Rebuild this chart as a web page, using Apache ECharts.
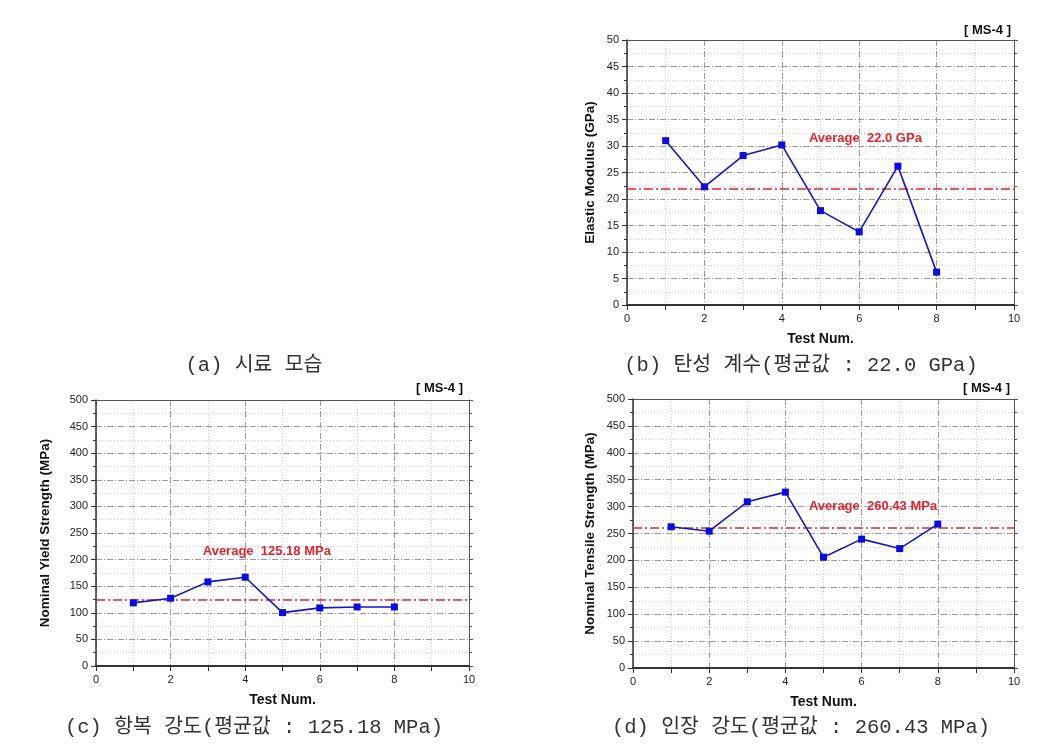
<!DOCTYPE html>
<html>
<head>
<meta charset="utf-8">
<script src="https://cdn.jsdelivr.net/npm/echarts@6/dist/echarts.min.js"></script>
<style>
html,body{margin:0;padding:0;background:#fff;}
#main{width:1040px;height:751px;}
</style>
</head>
<body>
<div id="main"></div>
<script>
// ---- data ----
const testNum = [1, 2, 3, 4, 5, 6, 7, 8];
const elasticModulus = [31.0, 22.3, 28.2, 30.2, 17.8, 13.8, 26.2, 6.2];
const yieldStrength = [118.6, 127.4, 158.1, 166.9, 100.4, 109.2, 111.0, 111.0];
const tensileStrength = [262.4, 254.3, 308.9, 326.9, 206.0, 239.5, 222.0, 267.4];
const averages = [22.0, 125.18, 260.43];
const avgLabels = ['Average  22.0 GPa', 'Average  125.18 MPa', 'Average  260.43 MPa'];
const avgLabelAnchor = [[6.16, 31.5], [4.58, 216], [6.3, 301]];
const yTitles = ['Elastic Modulus (GPa)', 'Nominal Yield Strength (MPa)', 'Nominal Tensile Strength (MPa)'];
const xTitle = 'Test Num.';
const yMax = [50, 500, 500];
const yInterval = [5, 50, 50];
const xMin = 0, xMax = 10, xInterval = 2;
const tagLabel = '[ MS-4 ]';
const captions = ['(a) 시료 모습', '(b) 탄성 계수(평균값 : 22.0 GPa)', '(c) 항복 강도(평균값 : 125.18 MPa)', '(d) 인장 강도(평균값 : 260.43 MPa)'];

// ---- layout ----
const grids = [
  {left: 627, top: 40, width: 387, height: 265},
  {left: 96, top: 400, width: 373, height: 266},
  {left: 633, top: 399, width: 381, height: 269}
];
const yNameGap = [30, 44, 36];
const seriesData = [elasticModulus, yieldStrength, tensileStrength];

const sansFont = "'Liberation Sans', Arial, sans-serif";
const capFont = "'Liberation Mono', 'Noto Sans CJK KR', monospace";
const axisCol = '#333';
const blue = '#1414c8';
const red = '#e3232b';

const xAxes = [], yAxes = [], series = [];
grids.forEach((g, i) => {
  // bottom x
  xAxes.push({
    gridIndex: i, type: 'value', min: xMin, max: xMax, interval: xInterval, position: 'bottom',
    name: xTitle, nameLocation: 'middle', nameGap: 27,
    nameTextStyle: {fontFamily: sansFont, fontWeight: 'bold', fontSize: 14, color: '#111'},
    axisLine: {show: true, onZero: false, lineStyle: {color: axisCol, width: 1.8}},
    axisTick: {show: true, length: 5, lineStyle: {color: axisCol}},
    minorTick: {show: true, splitNumber: 2, length: 5, lineStyle: {color: axisCol}},
    axisLabel: {fontFamily: sansFont, fontSize: 11, color: '#222', margin: 8},
    splitLine: {show: true, lineStyle: {color: '#9a9a9a', width: 1, type: [6, 2, 1, 2]}},
    minorSplitLine: {show: true, lineStyle: {color: '#d0d0d0', width: 1, type: [1, 2]}}
  });
  // top x (frame)
  xAxes.push({
    gridIndex: i, type: 'value', min: xMin, max: xMax, interval: xInterval, position: 'top',
    axisLine: {show: true, onZero: false, lineStyle: {color: '#555', width: 1}},
    axisTick: {show: false}, axisLabel: {show: false}, splitLine: {show: false}
  });
  // left y
  yAxes.push({
    gridIndex: i, type: 'value', min: 0, max: yMax[i], interval: yInterval[i], position: 'left',
    name: yTitles[i], nameLocation: 'middle', nameGap: yNameGap[i],
    nameTextStyle: {fontFamily: sansFont, fontWeight: 'bold', fontSize: 13.5, color: '#111'},
    axisLine: {show: true, onZero: false, lineStyle: {color: axisCol, width: 1.5}},
    axisTick: {show: true, length: 5, lineStyle: {color: axisCol}},
    minorTick: {show: true, splitNumber: 2, length: 3, lineStyle: {color: axisCol}},
    axisLabel: {fontFamily: sansFont, fontSize: 11, color: '#222', margin: 8},
    splitLine: {show: true, lineStyle: {color: '#9a9a9a', width: 1, type: [6, 2, 1, 2]}},
    minorSplitLine: {show: true, lineStyle: {color: '#d0d0d0', width: 1, type: [1, 2]}}
  });
  // right y (frame)
  yAxes.push({
    gridIndex: i, type: 'value', min: 0, max: yMax[i], interval: yInterval[i], position: 'right',
    axisLine: {show: true, onZero: false, lineStyle: {color: '#555', width: 1}},
    axisTick: {show: true, length: 4, lineStyle: {color: '#555'}},
    minorTick: {show: true, splitNumber: 2, length: 3, lineStyle: {color: '#555'}},
    axisLabel: {show: false}, splitLine: {show: false}
  });
  series.push({
    type: 'line', xAxisIndex: i * 2, yAxisIndex: i * 2,
    data: testNum.map((t, k) => [t, seriesData[i][k]]),
    symbol: 'rect', symbolSize: 7,
    lineStyle: {color: blue, width: 1.6},
    itemStyle: {color: '#0a0ae6'},
    z: 5,
    markLine: {
      silent: true, symbol: ['none', 'none'],
      label: {show: false},
      lineStyle: {color: red, width: 1.6, type: [9, 3, 2, 3]},
      data: [{yAxis: averages[i]}],
      animation: false
    },
    markPoint: {
      silent: true, symbol: 'circle', symbolSize: 1,
      itemStyle: {color: 'rgba(0,0,0,0)'},
      label: {show: true, position: 'inside', formatter: '{b}',
        fontFamily: sansFont, fontWeight: 'bold', fontSize: 13, color: red},
      data: [{name: avgLabels[i], coord: avgLabelAnchor[i]}],
      animation: false
    },
    animation: false
  });
});

const tagPos = [[1011, 32], [463, 390], [1010, 390]];
const capPos = [[254, 366], [801, 366], [254, 728], [801, 728]];
const graphic = [];
tagPos.forEach(p => graphic.push({
  type: 'text', right: 1040 - p[0], top: p[1] - 8,
  style: {text: tagLabel, font: "bold 13px 'Liberation Sans', Arial, sans-serif", fill: '#111'}
}));
captions.forEach((c, i) => graphic.push({
  type: 'text', x: capPos[i][0], y: capPos[i][1],
  style: {text: c, fontFamily: capFont, fontSize: 20.5, fill: '#333', align: 'center', verticalAlign: 'middle'}
}));

const chart = echarts.init(document.getElementById('main'), null, {renderer: 'canvas'});
chart.setOption({
  animation: false,
  backgroundColor: '#fff',
  grid: grids.map(g => Object.assign({containLabel: false}, g)),
  xAxis: xAxes,
  yAxis: yAxes,
  series: series,
  graphic: graphic
});
</script>
</body>
</html>
